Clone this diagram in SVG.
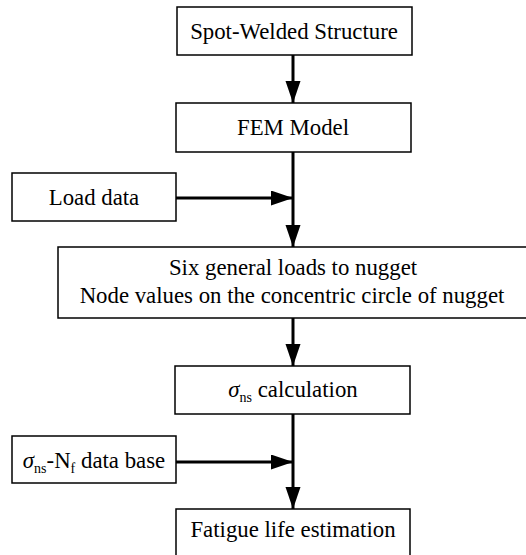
<svg xmlns="http://www.w3.org/2000/svg" width="526" height="555" viewBox="0 0 526 555">
<defs>
<style>
.box{fill:#fff;stroke:#000;stroke-width:1.5}
.ln{stroke:#000;stroke-width:3;fill:none}
</style>
<marker id="ah" markerUnits="userSpaceOnUse" markerWidth="24" markerHeight="16" refX="22" refY="7.5" orient="auto">
<path d="M0,0 L22,7.5 L0,15 Z" fill="#000"/>
</marker>
</defs>
<rect width="526" height="555" fill="#fff"/>
<g id="connectors">
<line class="ln" x1="293" y1="55" x2="293" y2="103" marker-end="url(#ah)"/>
<line class="ln" x1="293" y1="152" x2="293" y2="247" marker-end="url(#ah)"/>
<line class="ln" x1="176" y1="198" x2="293" y2="198" marker-end="url(#ah)"/>
<line class="ln" x1="293" y1="318" x2="293" y2="366" marker-end="url(#ah)"/>
<line class="ln" x1="293" y1="414" x2="293" y2="509" marker-end="url(#ah)"/>
<line class="ln" x1="176" y1="462" x2="293" y2="462" marker-end="url(#ah)"/>
</g>
<g font-family="Liberation Serif, DejaVu Serif, serif" font-size="22.8" fill="#000" text-anchor="middle">
<g id="spot-welded">
<rect class="box" x="177" y="7" width="235" height="48"/>
<text x="294" y="39">Spot-Welded Structure</text>
</g>
<g id="fem">
<rect class="box" x="176" y="103" width="235" height="49"/>
<text x="293" y="135">FEM Model</text>
</g>
<g id="load-data">
<rect class="box" x="12" y="173" width="164" height="48"/>
<text x="94" y="205">Load data</text>
</g>
<g id="six-loads">
<rect class="box" x="58" y="247" width="475" height="71"/>
<text x="293" y="275">Six general loads to nugget</text>
<text x="292" y="303">Node values on the concentric circle of nugget</text>
</g>
<g id="sigma-calc">
<rect class="box" x="175" y="366" width="235" height="48"/>
<text x="293" y="397"><tspan font-style="italic">σ</tspan><tspan font-size="14" dy="5">ns</tspan><tspan dy="-5"> calculation</tspan></text>
</g>
<g id="sn-database">
<rect class="box" x="12" y="436" width="164" height="47"/>
<text x="94" y="468"><tspan font-style="italic">σ</tspan><tspan font-size="14" dy="5">ns</tspan><tspan dy="-5">-N</tspan><tspan font-size="14" dy="5">f</tspan><tspan dy="-5"> data base</tspan></text>
</g>
<g id="fatigue">
<rect class="box" x="176" y="509" width="234" height="50"/>
<text x="293" y="537">Fatigue life estimation</text>
</g>
</g>
</svg>
